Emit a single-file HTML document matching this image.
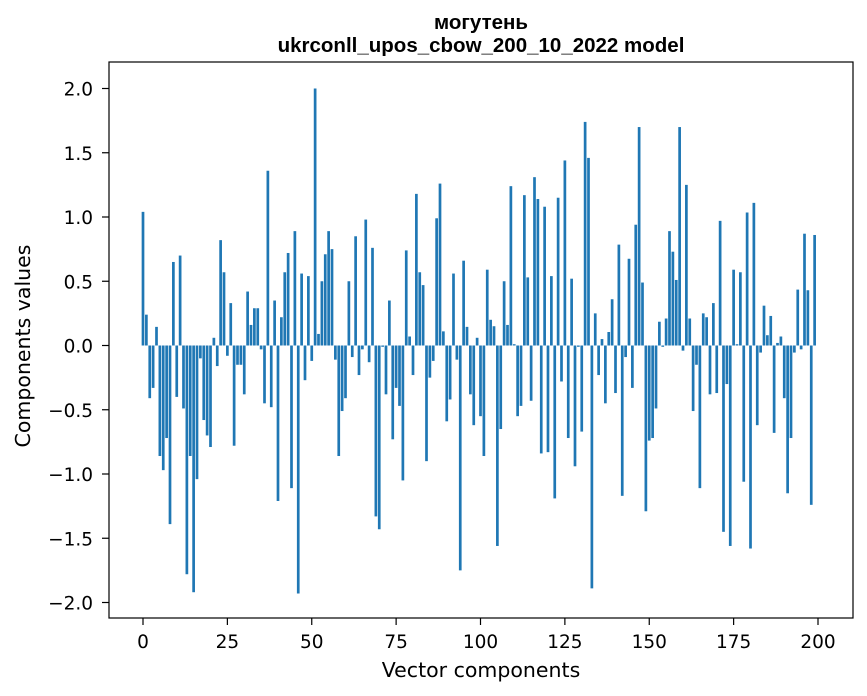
<!DOCTYPE html>
<html><head><meta charset="utf-8"><style>
body{margin:0;background:#fff;}
svg{display:block;font-family:"DejaVu Sans","Liberation Sans",sans-serif;}
</style></head><body>
<svg id="chart" width="867" height="696" viewBox="0 0 867 696" xmlns="http://www.w3.org/2000/svg">
<rect width="867" height="696" fill="#fff"/>
<text x="481" y="29" text-anchor="middle" font-size="20.5" font-weight="bold" font-family="Liberation Sans, Arial, sans-serif">могутень</text>
<text x="481" y="52" text-anchor="middle" font-size="20.5" font-weight="bold" font-family="Liberation Sans, Arial, sans-serif">ukrconll_upos_cbow_200_10_2022 model</text>
<g id="bars"></g>
<g id="axes"></g>
<text x="481" y="677" text-anchor="middle" font-size="20.5">Vector components</text>
<text transform="translate(30,346) rotate(-90)" text-anchor="middle" font-size="20.5">Components values</text>
</svg>
<script>
const values = [1.04,0.24,-0.41,-0.33,0.145,-0.86,-0.97,-0.72,-1.39,0.65,-0.40,0.70,-0.49,-1.78,-0.86,-1.92,-1.04,-0.10,-0.58,-0.70,
-0.79,0.06,-0.16,0.82,0.57,-0.08,0.33,-0.78,-0.15,-0.15,-0.38,0.42,0.16,0.29,0.29,-0.03,-0.45,1.36,-0.48,0.35,
-1.21,0.22,0.57,0.72,-1.11,0.89,-1.93,0.56,-0.27,0.54,-0.12,2.0,0.09,0.50,0.71,0.89,0.75,-0.11,-0.86,-0.51,
-0.41,0.50,-0.09,0.85,-0.23,-0.03,0.98,-0.13,0.76,-1.33,-1.43,-0.01,-0.38,0.35,-0.73,-0.33,-0.47,-1.05,0.74,0.07,
-0.23,1.18,0.57,0.47,-0.90,-0.25,-0.12,0.99,1.26,0.11,-0.59,-0.42,0.56,-0.11,-1.75,0.66,0.145,-0.38,-0.62,0.06,
-0.55,-0.86,0.59,0.20,0.15,-1.56,-0.65,0.50,0.16,1.24,0.01,-0.55,-0.47,1.17,0.53,-0.43,1.31,1.14,-0.84,1.08,
-0.83,0.54,-1.19,1.15,-0.28,1.44,-0.72,0.52,-0.94,-0.01,-0.67,1.74,1.46,-1.89,0.25,-0.23,0.05,-0.45,0.105,0.36,
-0.37,0.785,-1.17,-0.09,0.675,-0.33,0.94,1.70,0.49,-1.29,-0.74,-0.72,-0.49,0.185,-0.01,0.21,0.89,0.73,0.51,1.70,
-0.04,1.25,0.21,-0.51,-0.15,-1.11,0.25,0.22,-0.38,0.33,-0.37,0.97,-1.45,-0.30,-1.56,0.59,0.01,0.57,-1.06,1.035,
-1.58,1.11,-0.62,-0.055,0.31,0.08,0.23,-0.68,0.02,0.07,-0.41,-1.15,-0.72,-0.055,0.435,-0.03,0.87,0.43,-1.24,0.86];
const xTicks = [0,25,50,75,100,125,150,175,200];
const yTicks = [-2.0,-1.5,-1.0,-0.5,0.0,0.5,1.0,1.5,2.0];
const yTickLabels = ["\u22122.0","\u22121.5","\u22121.0","\u22120.5","0.0","0.5","1.0","1.5","2.0"];

const L=109,R=853,T=62,B=618;
function xs(v){return 143+3.375*v;}
function ys(v){return 345.5-128.5*v;}
const NS="http://www.w3.org/2000/svg";
const bars=document.getElementById('bars');
const bw=0.8*3.375;
values.forEach((v,i)=>{
  const r=document.createElementNS(NS,'rect');
  const y0=ys(0), y1=ys(v);
  r.setAttribute('x',xs(i)-bw/2);
  r.setAttribute('y',Math.min(y0,y1));
  r.setAttribute('width',bw);
  r.setAttribute('height',Math.max(Math.abs(y1-y0),0.3));
  r.setAttribute('fill','#1f77b4');
  
  
  bars.appendChild(r);
});
const axes=document.getElementById('axes');
const frame=document.createElementNS(NS,'rect');
frame.setAttribute('x',L);frame.setAttribute('y',T);frame.setAttribute('width',R-L);frame.setAttribute('height',B-T);
frame.setAttribute('fill','none');frame.setAttribute('stroke','#000');frame.setAttribute('stroke-width','1.2');


axes.appendChild(frame);
xTicks.forEach(t=>{
  const x=xs(t);
  const l=document.createElementNS(NS,'line');
  l.setAttribute('x1',x);l.setAttribute('x2',x);l.setAttribute('y1',B);l.setAttribute('y2',B+7);l.setAttribute('stroke','#000');l.setAttribute('stroke-width','1.2');
  
  
  axes.appendChild(l);
  const tx=document.createElementNS(NS,'text');
  tx.setAttribute('x',x);tx.setAttribute('y',648);tx.setAttribute('text-anchor','middle');tx.setAttribute('font-size','18.5');
  tx.textContent=t;
  
  
  axes.appendChild(tx);
});
yTicks.forEach((t,i)=>{
  const y=ys(t);
  const l=document.createElementNS(NS,'line');
  l.setAttribute('x1',L-7);l.setAttribute('x2',L);l.setAttribute('y1',y);l.setAttribute('y2',y);l.setAttribute('stroke','#000');l.setAttribute('stroke-width','1.2');
  
  
  axes.appendChild(l);
  const tx=document.createElementNS(NS,'text');
  tx.setAttribute('x',93);tx.setAttribute('y',y+7);tx.setAttribute('text-anchor','end');tx.setAttribute('font-size','18.5');
  tx.textContent=yTickLabels[i];
  
  
  axes.appendChild(tx);
});
</script>
</body></html>
